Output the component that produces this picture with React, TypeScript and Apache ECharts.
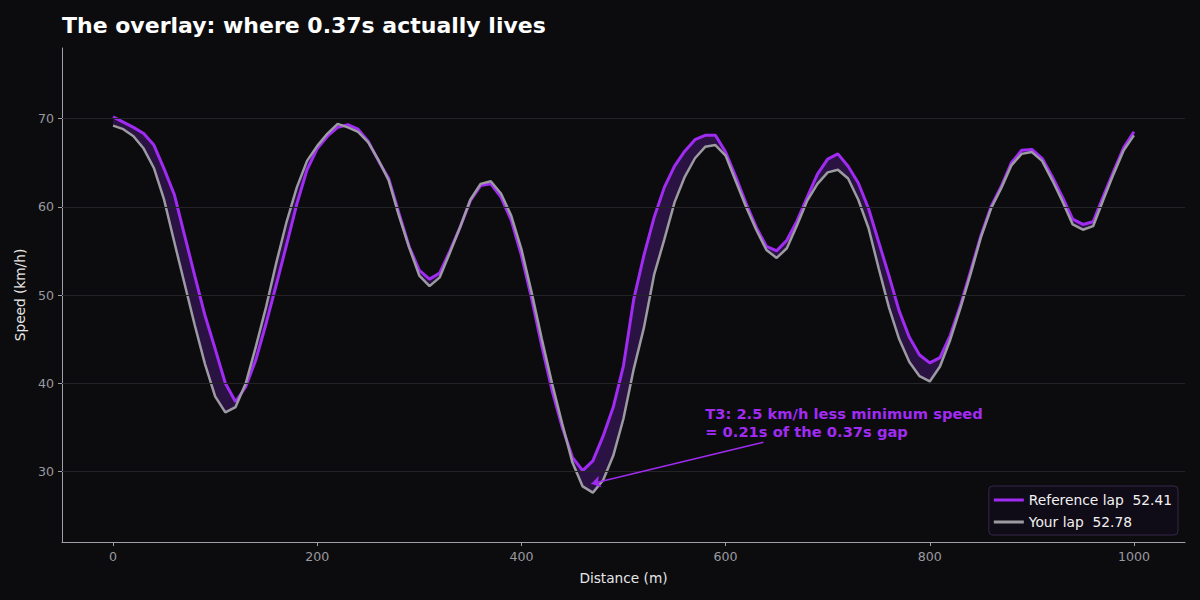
import React, { useEffect, useRef } from "react";
import * as echarts from "echarts";

const DISTANCE = [
  0, 10, 20, 30, 40, 50, 60, 70, 80, 90, 100, 110, 120, 130, 140, 150, 160, 170, 180, 190,
  200, 210, 220, 230, 240, 250, 260, 270, 280, 290, 300, 310, 320, 330, 340, 350, 360, 370, 380, 390,
  400, 410, 420, 430, 440, 450, 460, 470, 480, 490, 500, 510, 520, 530, 540, 550, 560, 570, 580, 590,
  600, 610, 620, 630, 640, 650, 660, 670, 680, 690, 700, 710, 720, 730, 740, 750, 760, 770, 780, 790,
  800, 810, 820, 830, 840, 850, 860, 870, 880, 890, 900, 910, 920, 930, 940, 950, 960, 970, 980, 990,
  1000,
];

const REFERENCE_SPEED = [
  70.2, 69.6, 69.0, 68.3, 67.0, 64.3, 61.4, 56.8, 52.2, 47.7, 43.9, 40.0, 37.9, 39.6, 42.7, 46.8, 51.2, 55.7, 60.3, 64.2,
  66.6, 68.0, 69.0, 69.3, 68.8, 67.4, 65.2, 63.2, 59.3, 55.5, 52.8, 51.8, 52.5, 55.0, 57.7, 60.7, 62.4, 62.6, 61.1, 58.5,
  54.5, 49.6, 44.2, 39.2, 35.0, 31.6, 30.1, 31.2, 34.0, 37.3, 42.0, 49.5, 54.5, 58.8, 62.2, 64.6, 66.3, 67.6, 68.1, 68.1,
  66.2, 63.4, 60.4, 57.7, 55.5, 55.0, 56.2, 58.4, 61.1, 63.7, 65.4, 66.0, 64.6, 62.7, 59.8, 56.0, 52.2, 48.2, 45.2, 43.2,
  42.3, 42.9, 45.4, 48.8, 52.7, 56.7, 60.0, 62.3, 65.0, 66.4, 66.5, 65.5, 63.4, 61.1, 58.6, 58.0, 58.3, 61.2, 64.0, 66.7,
  68.5,
];

const YOUR_SPEED = [
  69.2, 68.8, 68.0, 66.6, 64.4, 60.8, 56.0, 51.3, 46.6, 42.2, 38.5, 36.7, 37.3, 40.0, 44.2, 48.7, 53.7, 58.3, 62.2, 65.2,
  66.9, 68.3, 69.4, 69.0, 68.5, 67.3, 65.3, 63.0, 59.0, 55.4, 52.2, 51.0, 52.0, 54.8, 57.7, 60.8, 62.6, 62.9, 61.5, 59.0,
  55.2, 50.3, 45.0, 40.0, 35.4, 31.0, 28.3, 27.6, 29.0, 31.8, 36.0, 41.6, 46.3, 52.3, 56.3, 60.5, 63.4, 65.5, 66.8, 67.0,
  65.8, 62.9, 60.0, 57.4, 55.1, 54.2, 55.3, 57.9, 60.7, 62.6, 63.9, 64.2, 63.2, 60.8, 57.6, 53.0, 48.6, 45.0, 42.4, 40.8,
  40.2, 41.9, 44.9, 48.5, 52.4, 56.5, 59.8, 62.1, 64.7, 66.0, 66.2, 65.2, 63.0, 60.6, 58.0, 57.4, 57.8, 60.8, 63.7, 66.4,
  68.1,
];

const SERIES_NAMES = ["Reference lap", "Your lap"];
const LAP_TIMES = ["52.41", "52.78"];
const X_TICKS = [0, 200, 400, 600, 800, 1000];
const Y_TICKS = [30, 40, 50, 60, 70];

const TITLE = "The overlay: where 0.37s actually lives";
const ANNOTATION_LINES = ["T3: 2.5 km/h less minimum speed", "= 0.21s of the 0.37s gap"];
const ANNOTATION_TEXT_AT = [580, 37.6];
const ANNOTATION_ARROW_FROM = [637, 33.3];
const ANNOTATION_ARROW_TO = [468.6, 28.6];

const PURPLE = "#a02bf2";
const GREY = "#9c9ba2";
const BAND = "#2a1243";
const BG = "#0c0c0e";
const FONT = "DejaVu Sans";

export default function App() {
  const ref = useRef<HTMLDivElement>(null);

  useEffect(() => {
    document.body.style.margin = "0";
    const chart = echarts.init(ref.current!, null, { renderer: "svg" });

    const refData = DISTANCE.map((d, i) => [d, REFERENCE_SPEED[i]]);
    const yourData = DISTANCE.map((d, i) => [d, YOUR_SPEED[i]]);
    const bandData = DISTANCE.map((d, i) => [d, REFERENCE_SPEED[i], YOUR_SPEED[i]]);

    const legendLabels: Record<string, string> = {};
    SERIES_NAMES.forEach((n, i) => {
      legendLabels[n] = `${n}\u00a0\u00a0${LAP_TIMES[i]}`;
    });

    const renderBand = (params: any, api: any) => {
      if (params.dataIndex !== 0) return null;
      const top: number[][] = [];
      const bottom: number[][] = [];
      for (let i = 0; i < DISTANCE.length; i++) {
        top.push(api.coord([DISTANCE[i], REFERENCE_SPEED[i]]));
        bottom.push(api.coord([DISTANCE[i], YOUR_SPEED[i]]));
      }
      const points = top.concat(bottom.reverse());
      return {
        type: "polygon",
        shape: { points },
        style: { fill: BAND, stroke: "none" },
        silent: true,
      };
    };

    chart.setOption({
      animation: false,
      backgroundColor: BG,
      textStyle: { fontFamily: FONT },
      title: {
        text: TITLE,
        left: 57,
        top: 9,
        textStyle: { color: "#ffffff", fontSize: 22, fontWeight: "bold", fontFamily: FONT },
      },
      grid: { left: 62, right: 15, top: 48, bottom: 58, containLabel: false },
      xAxis: {
        type: "value",
        min: -50,
        max: 1050,
        name: "Distance (m)",
        nameLocation: "middle",
        nameGap: 29,
        nameTextStyle: { color: "#e6e6e6", fontSize: 13.7, fontFamily: FONT },
        axisLine: { show: true, onZero: false, lineStyle: { color: "#a0a0a8", width: 1 } },
        axisTick: { show: true, length: 4, lineStyle: { color: "#a0a0a8" }, customValues: X_TICKS },
        axisLabel: {
          color: "#9a9aa0",
          fontSize: 12.6,
          margin: 8,
          customValues: X_TICKS,
          fontFamily: FONT,
          formatter: (v: number) => String(v),
        },
        splitLine: { show: false },
      },
      yAxis: {
        type: "value",
        min: 22,
        max: 78,
        name: "Speed (km/h)",
        nameLocation: "middle",
        nameGap: 34,
        nameTextStyle: { color: "#e6e6e6", fontSize: 13.7, fontFamily: FONT },
        axisLine: { show: true, onZero: false, lineStyle: { color: "#a0a0a8", width: 1 } },
        axisTick: { show: true, length: 4, lineStyle: { color: "#a0a0a8" }, customValues: Y_TICKS },
        axisLabel: {
          color: "#9a9aa0",
          fontSize: 12.6,
          margin: 8,
          customValues: Y_TICKS,
          fontFamily: FONT,
          formatter: (v: number) => String(v),
        },
        splitLine: { show: false },
      },
      legend: {
        data: SERIES_NAMES,
        orient: "vertical",
        right: 22,
        bottom: 65,
        icon: "rect",
        itemWidth: 30,
        itemHeight: 3,
        itemGap: 8,
        padding: [7, 6, 6, 5],
        backgroundColor: "#100c17",
        borderColor: "#35264d",
        borderWidth: 1,
        borderRadius: 4,
        textStyle: { color: "#f2f2f2", fontSize: 13.8, fontFamily: FONT },
        formatter: (name: string) => legendLabels[name] ?? name,
      },
      series: [
        {
          name: "grid",
          type: "line",
          data: [],
          silent: true,
          markLine: {
            silent: true,
            symbol: "none",
            label: { show: false },
            lineStyle: { color: "#242428", width: 1, type: "solid" },
            data: Y_TICKS.map((v) => ({ yAxis: v })),
          },
        },
        {
          name: "band",
          type: "custom",
          data: bandData,
          silent: true,
          encode: { x: 0, y: [1, 2] },
          renderItem: renderBand,
          z: 1,
        },
        {
          name: SERIES_NAMES[0],
          type: "line",
          data: refData,
          symbol: "none",
          color: PURPLE,
          z: 3,
          lineStyle: { color: PURPLE, width: 3 },
          markLine: {
            silent: true,
            symbol: ["none", "arrow"],
            symbolSize: 9,
            label: { show: false },
            lineStyle: { color: PURPLE, width: 1.5, type: "solid" },
            data: [[{ coord: ANNOTATION_ARROW_FROM }, { coord: ANNOTATION_ARROW_TO }]],
          },
          markPoint: {
            silent: true,
            symbol: "circle",
            symbolSize: 0,
            data: [
              {
                coord: ANNOTATION_TEXT_AT,
                label: {
                  show: true,
                  position: [0, 0],
                  align: "left",
                  verticalAlign: "top",
                  color: PURPLE,
                  fontSize: 14.7,
                  fontWeight: "bold",
                  lineHeight: 18,
                  fontFamily: FONT,
                  formatter: ANNOTATION_LINES.join("\n"),
                },
              },
            ],
          },
        },
        {
          name: SERIES_NAMES[1],
          type: "line",
          data: yourData,
          symbol: "none",
          color: GREY,
          z: 4,
          lineStyle: { color: GREY, width: 2.5 },
        },
      ],
    });

    return () => chart.dispose();
  }, []);

  return (
    <div
      ref={ref}
      style={{ position: "fixed", left: 0, top: 0, width: 1200, height: 600 }}
    />
  );
}
